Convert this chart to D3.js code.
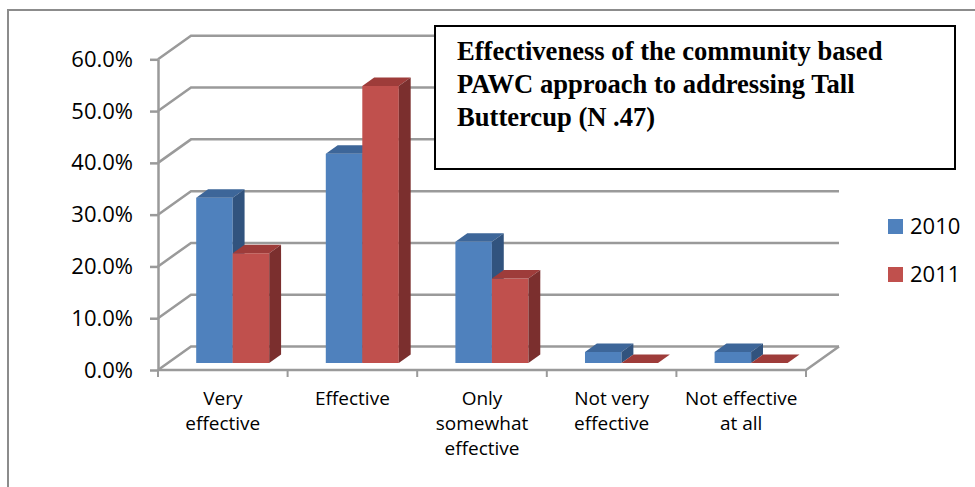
<!DOCTYPE html>
<html>
<head>
<meta charset="utf-8">
<script src="https://cdn.jsdelivr.net/npm/d3@7"></script>
<style>
  body { margin: 0; background: #fff; }
  svg { display: block; }
</style>
</head>
<body>
<div id="grafico"></div>
<script>
// ------------------------------
// Datos
// ------------------------------
const categorias = ["Very effective", "Effective", "Only somewhat effective", "Not very effective", "Not effective at all"];
const etiquetas = [["Very", "effective"], ["Effective"], ["Only", "somewhat", "effective"], ["Not very", "effective"], ["Not effective", "at all"]];
const series = ["2010", "2011"];
const valores2010 = [0.319, 0.404, 0.234, 0.021, 0.021];
const valores2011 = [0.212, 0.535, 0.163, 0, 0];
const ticksY = [0, 0.1, 0.2, 0.3, 0.4, 0.5, 0.6];
const titulo = ["Effectiveness of the community based", "PAWC approach to addressing Tall", "Buttercup (N .47)"];

const W = 975, H = 487;
const colores = {
  "2010": { front: "#4F81BD", top: "#3D6699", side: "#31537E" },
  "2011": { front: "#C0504D", top: "#9E3C3A", side: "#7B2F2E" }
};

// profundidad del "3D"
const DX = 33, DY = -23.5;
const f0 = 0.3, f1 = 0.66; // cara frontal y trasera de las barras
const gris = "#9a9a9a";

const svg = d3.select("#grafico").append("svg")
  .attr("width", W).attr("height", H);

// marco exterior (solo se ven arriba e izquierda)
svg.append("path")
  .attr("d", `M8,${H} L8,10 L${W},10`)
  .attr("fill", "none").attr("stroke", "#8c8c8c").attr("stroke-width", 2);

// ------------------------------
// Escalas
// ------------------------------
const x = d3.scaleBand().domain(categorias).range([158, 806]).paddingInner(0).paddingOuter(0);
const x1 = d3.scaleBand().domain(series).range([0, x.bandwidth()]).paddingInner(0).paddingOuter(0.775);
const y = d3.scaleLinear().domain([0, 0.6]).range([370, 59.3]);

const P = (px, py, f) => [px + f * DX, py + f * DY];
const poly = pts => "M" + pts.map(p => p.join(",")).join("L") + "Z";

// ------------------------------
// Paredes y rejilla
// ------------------------------
const rejilla = svg.append("g").attr("fill", "none").attr("stroke", gris).attr("stroke-width", 2.5);

ticksY.forEach(t => {
  const a = P(158, y(t), 0), b = P(158, y(t), 1), c = P(806, y(t), 1);
  rejilla.append("path").attr("d", `M${a}L${b}L${c}`);
});

// piso
rejilla.append("path")
  .attr("d", `M${P(158, y(0), 0)}L${P(806, y(0), 0)}L${P(806, y(0), 1)}`);

// eje vertical
const ejeY = d3.axisLeft(y)
  .tickValues(ticksY)
  .tickFormat(d3.format(".1%"))
  .tickSize(8)
  .tickSizeOuter(0)
  .tickPadding(17);

const gEje = svg.append("g")
  .attr("transform", "translate(158,0)")
  .call(ejeY);
gEje.select(".domain").attr("stroke", gris).attr("stroke-width", 2.5);
gEje.selectAll(".tick line").attr("stroke", gris).attr("stroke-width", 2.5);
gEje.selectAll(".tick text")
  .attr("font-family", "'Open Sans', sans-serif")
  .attr("font-size", 22)
  .attr("fill", "#000");

// marcas de categoría
const limites = categorias.map(c => x(c)).concat([x(categorias[categorias.length - 1]) + x.bandwidth()]);
svg.append("g").selectAll("line")
  .data(limites)
  .join("line")
  .attr("x1", d => d).attr("x2", d => d)
  .attr("y1", y(0)).attr("y2", y(0) + 7)
  .attr("stroke", gris).attr("stroke-width", 2);

// etiquetas de categoría
const gEtiq = svg.append("g")
  .attr("font-family", "'Open Sans', sans-serif")
  .attr("font-size", 19)
  .attr("fill", "#000")
  .attr("text-anchor", "middle");

categorias.forEach((c, i) => {
  const t = gEtiq.append("text")
    .attr("x", x(c) + x.bandwidth() / 2)
    .attr("y", 405);
  etiquetas[i].forEach((linea, j) => {
    t.append("tspan")
      .attr("x", x(c) + x.bandwidth() / 2)
      .attr("dy", j === 0 ? 0 : 25)
      .text(linea);
  });
});

// ------------------------------
// Barras 3D
// ------------------------------
const datos = [];
categorias.forEach((c, i) => {
  datos.push({ cat: c, serie: "2010", valor: valores2010[i] });
  datos.push({ cat: c, serie: "2011", valor: valores2011[i] });
});

const gBarras = svg.append("g");
datos.forEach(d => {
  const xl = x(d.cat) + x1(d.serie);
  const xr = xl + x1.bandwidth();
  const y0 = y(0), yt = y(d.valor);
  const col = colores[d.serie];
  const g = gBarras.append("g");

  // cara frontal
  g.append("path")
    .attr("d", poly([P(xl, yt, f0), P(xr, yt, f0), P(xr, y0, f0), P(xl, y0, f0)]))
    .attr("fill", col.front);
  // cara superior
  g.append("path")
    .attr("d", poly([P(xl, yt, f0), P(xr, yt, f0), P(xr, yt, f1), P(xl, yt, f1)]))
    .attr("fill", col.top);
  // cara lateral
  g.append("path")
    .attr("d", poly([P(xr, yt, f0), P(xr, yt, f1), P(xr, y0, f1), P(xr, y0, f0)]))
    .attr("fill", col.side);
});

// ------------------------------
// Título en recuadro
// ------------------------------
svg.append("rect")
  .attr("x", 435).attr("y", 26)
  .attr("width", 520).attr("height", 143)
  .attr("fill", "#fff").attr("stroke", "#000").attr("stroke-width", 2);

const tTitulo = svg.append("text")
  .attr("font-family", "'Liberation Serif', 'Times New Roman', serif")
  .attr("font-weight", "bold")
  .attr("font-size", 26.6)
  .attr("fill", "#000");
titulo.forEach((linea, j) => {
  tTitulo.append("tspan")
    .attr("x", 457)
    .attr("y", 60 + j * 33)
    .text(linea);
});

// ------------------------------
// Leyenda
// ------------------------------
const leyenda = svg.append("g").selectAll("g")
  .data(series)
  .join("g")
  .attr("transform", (d, i) => `translate(888,${219 + i * 48})`);

leyenda.append("rect")
  .attr("width", 15).attr("height", 15)
  .attr("fill", d => colores[d].front);

leyenda.append("text")
  .attr("x", 22).attr("y", 7.5)
  .attr("dy", "0.36em")
  .attr("font-family", "'Open Sans', sans-serif")
  .attr("font-size", 22)
  .attr("fill", "#000")
  .text(d => d);
</script>
</body>
</html>
